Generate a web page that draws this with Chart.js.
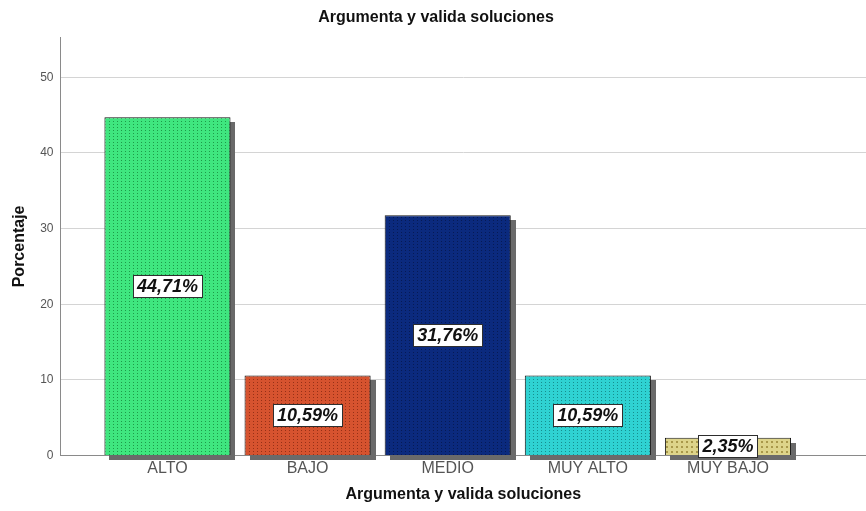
<!DOCTYPE html>
<html>
<head>
<meta charset="utf-8">
<script src="https://cdn.jsdelivr.net/npm/chart.js@4/dist/chart.umd.min.js"></script>
<style>
html,body{margin:0;padding:0;background:#fff;}
#wrap{width:866px;height:511px;}
</style>
</head>
<body>
<div id="wrap"><canvas id="c" width="866" height="511"></canvas></div>
<script>
const categories = ['ALTO', 'BAJO', 'MEDIO', 'MUY ALTO', 'MUY BAJO'];
const percentages = [44.71, 10.59, 31.76, 10.59, 2.35];
const valueLabels = ['44,71%', '10,59%', '31,76%', '10,59%', '2,35%'];
const yTicks = [0, 10, 20, 30, 40, 50];
const baseColors = ['#3fe67f', '#d6532f', '#0b2a7e', '#2fd2d2', '#ddd48a'];
const dotColors = ['#1d9a48', '#963016', '#061a55', '#168e8e', '#a8984a'];

const FONT = '"Liberation Sans", Arial, sans-serif';

function makePattern(base, dot, big) {
  const p = document.createElement('canvas');
  p.width = big ? 5 : 4; p.height = big ? 5 : 3;
  const g = p.getContext('2d');
  g.fillStyle = base; g.fillRect(0, 0, p.width, p.height);
  g.fillStyle = dot;
  if (big) g.fillRect(1, 1, 2, 2); else g.fillRect(1, 1, 1, 1);
  return document.getElementById('c').getContext('2d').createPattern(p, 'repeat');
}
const fills = baseColors.map((b, i) => makePattern(b, dotColors[i], i === 4));

const shadowPlugin = {
  id: 'shadow',
  beforeDatasetsDraw(chart) {
    const ctx = chart.ctx;
    const meta = chart.getDatasetMeta(0);
    ctx.save();
    ctx.fillStyle = '#6a6a6a';
    meta.data.forEach((el) => {
      const w = el.width;
      ctx.fillRect(Math.round(el.x - w / 2) + 5, Math.round(el.y) + 5, Math.round(w), Math.round(el.base - el.y));
    });
    ctx.restore();
  }
};

const labelPlugin = {
  id: 'boxLabels',
  afterDatasetsDraw(chart) {
    const ctx = chart.ctx;
    const meta = chart.getDatasetMeta(0);
    ctx.save();
    ctx.font = 'italic bold 18px ' + FONT;
    ctx.textAlign = 'center';
    ctx.textBaseline = 'middle';
    meta.data.forEach((el, i) => {
      const cx = el.x;
      const cy = (el.y + el.base) / 2;
      const txt = valueLabels[i];
      const w = ctx.measureText(txt).width + 8;
      const h = 22;
      const x0 = Math.round(cx - w / 2) + 0.5, y0 = Math.round(cy - h / 2) + 0.5;
      ctx.fillStyle = '#ffffff';
      ctx.fillRect(x0, y0, Math.round(w), h);
      ctx.strokeStyle = '#2e2e2e';
      ctx.lineWidth = 1;
      ctx.strokeRect(x0, y0, Math.round(w), h);
      ctx.fillStyle = '#111';
      ctx.fillText(txt, cx, cy + 1);
    });
    ctx.restore();
  }
};

new Chart(document.getElementById('c'), {
  type: 'bar',
  data: {
    datasets: [{
      data: percentages.map((v, i) => ({ x: i, y: v })),
      backgroundColor: fills,
      borderColor: '#151515',
      borderWidth: 1,
      categoryPercentage: 0.9,
      barPercentage: 1.0
    }]
  },
  options: {
    responsive: false,
    animation: false,
    devicePixelRatio: 1,
    layout: { padding: { top: 4, right: 0, bottom: 7, left: 6 } },
    plugins: {
      legend: { display: false },
      tooltip: { enabled: false },
      title: {
        display: true,
        text: 'Argumenta y valida soluciones',
        color: '#111',
        font: { family: FONT, size: 16, weight: 'bold' },
        padding: { top: 4, bottom: 10 }
      }
    },
    scales: {
      x: {
        type: 'linear',
        offset: false,
        min: -0.763,
        max: 4.985,
        grid: { display: false, drawTicks: false },
        border: { color: '#8a8a8a', width: 1 },
        ticks: {
          stepSize: 1,
          includeBounds: false,
          autoSkip: false,
          maxRotation: 0,
          padding: 3,
          color: '#555',
          font: { family: FONT, size: 16 },
          callback: (v) => (Number.isInteger(v) && categories[v] !== undefined) ? categories[v] : ''
        },
        title: {
          display: true,
          text: 'Argumenta y valida soluciones',
          color: '#111',
          font: { family: FONT, size: 16, weight: 'bold' },
          padding: { top: 4, bottom: 0 }
        }
      },
      y: {
        min: 0,
        max: 55.3,
        afterBuildTicks: (axis) => { axis.ticks = yTicks.map(v => ({ value: v })); },
        grid: { color: '#d4d4d4', drawTicks: false, lineWidth: 1 },
        border: { color: '#8a8a8a', width: 1 },
        ticks: {
          padding: 7,
          color: '#555',
          font: { family: FONT, size: 12 }
        },
        title: {
          display: true,
          text: 'Porcentaje',
          color: '#111',
          font: { family: FONT, size: 16, weight: 'bold' },
          padding: { top: 4, bottom: 4 }
        }
      }
    }
  },
  plugins: [shadowPlugin, labelPlugin]
});
</script>
</body>
</html>
